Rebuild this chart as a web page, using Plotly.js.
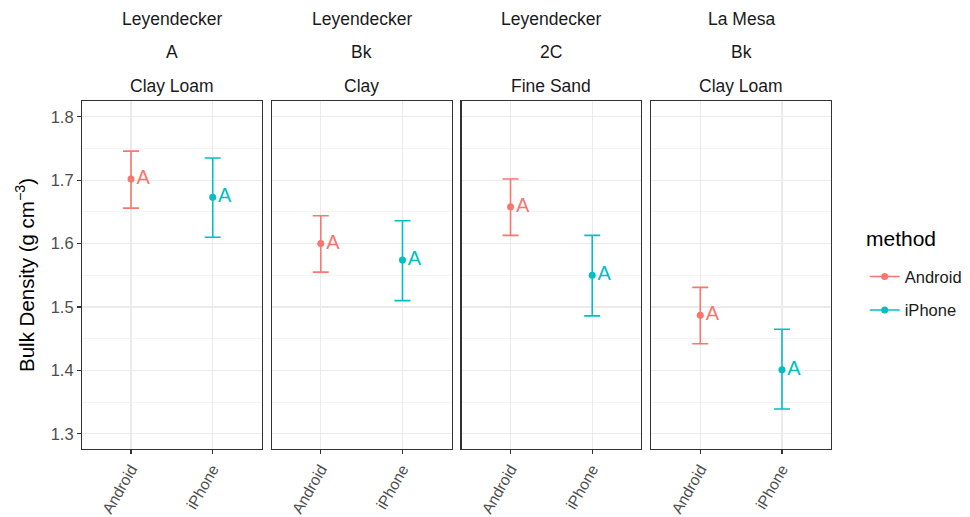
<!DOCTYPE html>
<html>
<head>
<meta charset="utf-8">
<script src="https://cdn.plot.ly/plotly-3.0.1.min.js"></script>
<style>html,body{margin:0;padding:0;background:#fff;}#chart{width:970px;height:517px;}</style>
</head>
<body>
<div id="chart"></div>
<script>
// ---- data ----
const siteLabels = ["Leyendecker", "Leyendecker", "Leyendecker", "La Mesa"];
const horizonLabels = ["A", "Bk", "2C", "Bk"];
const textureLabels = ["Clay Loam", "Clay", "Fine Sand", "Clay Loam"];
const methods = ["Android", "iPhone"];
const androidMean  = [1.702, 1.600, 1.658, 1.487];
const androidLower = [1.656, 1.555, 1.613, 1.442];
const androidUpper = [1.746, 1.644, 1.702, 1.531];
const iphoneMean   = [1.673, 1.574, 1.550, 1.401];
const iphoneLower  = [1.610, 1.510, 1.486, 1.339];
const iphoneUpper  = [1.735, 1.636, 1.613, 1.465];
const letterAndroid = ["A", "A", "A", "A"];
const letterIphone  = ["A", "A", "A", "A"];
const yTicks = [1.3, 1.4, 1.5, 1.6, 1.7, 1.8];
const legendTitle = "method";

const colors = {Android: "#F8766D", iPhone: "#00BFC4"};
const FONT = "Liberation Sans, Arial, sans-serif";
const series = [
  {name: "Android", mean: androidMean, lo: androidLower, hi: androidUpper, pos: 1, letters: letterAndroid},
  {name: "iPhone",  mean: iphoneMean,  lo: iphoneLower,  hi: iphoneUpper,  pos: 2, letters: letterIphone}
];

const nPanels = siteLabels.length;
const gapFrac = 10 / 749;
const panelW = (1 - gapFrac * (nPanels - 1)) / nPanels;

const traces = [];
const layout = {
  width: 970, height: 517,
  margin: {l: 82, r: 139, t: 101, b: 68, autoexpand: false},
  paper_bgcolor: "#fff", plot_bgcolor: "#fff",
  font: {family: FONT, color: "#1a1a1a"},
  showlegend: true,
  legend: {
    x: 1.045, y: 0.545, xanchor: "left", yanchor: "top",
    font: {size: 16.5, color: "#1a1a1a"},
    tracegroupgap: 9, itemwidth: 30
  },
  annotations: []
};

for (let p = 0; p < nPanels; p++) {
  const ax = p === 0 ? "" : String(p + 1);
  const x0 = p * (panelW + gapFrac);
  layout["xaxis" + ax] = {
    domain: [x0, x0 + panelW], range: [0.4, 2.6],
    tickvals: [1, 2], ticktext: methods, tickangle: -60,
    tickfont: {size: 15.5, color: "#4d4d4d"},
    ticks: "outside", ticklen: 4, tickcolor: "#333", tickwidth: 1.1,
    showgrid: true, gridcolor: "#ebebeb", gridwidth: 1.1,
    showline: true, linecolor: "#333", linewidth: 1.1, mirror: true,
    zeroline: false, anchor: "y" + ax, fixedrange: true
  };
  layout["yaxis" + ax] = {
    range: [1.276, 1.825], anchor: "x" + ax,
    tickvals: yTicks, tickformat: ".1f",
    tickfont: {size: 16.5, color: "#4d4d4d"},
    ticks: p === 0 ? "outside" : "", ticklen: 4, tickcolor: "#333", tickwidth: 1.1,
    showticklabels: p === 0,
    showgrid: true, gridcolor: "#ebebeb", gridwidth: 1.1,
    minor: {dtick: 0.05, tick0: 1.25, showgrid: true, gridcolor: "#ebebeb", gridwidth: 0.55, ticks: ""},
    showline: true, linecolor: "#333", linewidth: 1.1, mirror: true,
    zeroline: false, fixedrange: true
  };
  if (p > 0) layout["yaxis" + ax].matches = "y";

  const cx = x0 + panelW / 2;
  [[siteLabels[p], 1.236], [horizonLabels[p], 1.141], [textureLabels[p], 1.043]].forEach(([t, yy]) => {
    layout.annotations.push({text: t, xref: "paper", yref: "paper", x: cx, y: yy,
      xanchor: "center", yanchor: "middle", showarrow: false, font: {size: 17.5, color: "#1a1a1a"}});
  });

  series.forEach(s => {
    traces.push({
      type: "scatter", mode: "markers+text",
      x: [s.pos], y: [s.mean[p]],
      xaxis: "x" + ax, yaxis: "y" + ax,
      marker: {color: colors[s.name], size: 7},
      text: [s.letters[p]], textposition: "middle right",
      textfont: {size: 20, color: colors[s.name], family: FONT},
      error_y: {type: "data", symmetric: false,
        array: [s.hi[p] - s.mean[p]], arrayminus: [s.mean[p] - s.lo[p]],
        color: colors[s.name], thickness: 1.6, width: 8},
      showlegend: false, hoverinfo: "skip", cliponaxis: false
    });
  });
}

// legend entries
series.forEach(s => {
  traces.push({type: "scatter", mode: "lines+markers", name: s.name, legendgroup: s.name,
    x: [null], y: [null], xaxis: "x", yaxis: "y",
    line: {color: colors[s.name], width: 1.6}, marker: {color: colors[s.name], size: 7},
    showlegend: true});
});

// legend title
layout.annotations.push({text: legendTitle, xref: "paper", yref: "paper",
  x: (864 - 82) / 749, y: (449 - 238) / 348, xanchor: "left", yanchor: "middle",
  showarrow: false, font: {size: 21, color: "#000"}});

layout.annotations.push({text: "Bulk Density (g cm<sup>−3</sup>)", xref: "paper", yref: "paper",
  x: (25 - 82) / 749, y: 0.5, xanchor: "center", yanchor: "middle", textangle: -90,
  showarrow: false, font: {size: 20.5, color: "#000"}});

Plotly.newPlot("chart", traces, layout, {displayModeBar: false, staticPlot: true});
</script>
</body>
</html>
